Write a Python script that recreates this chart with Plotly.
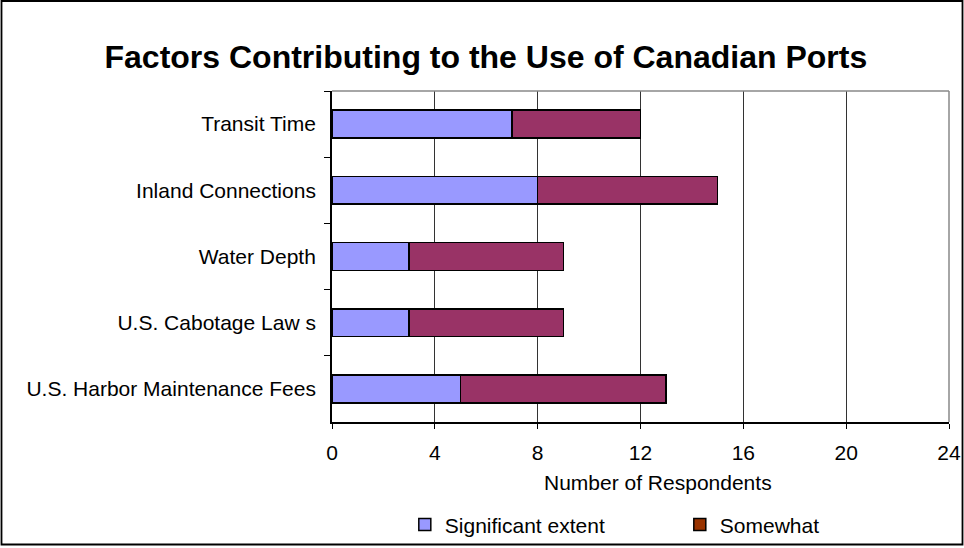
import plotly.graph_objects as go

# Survey responses: factors behind shippers' use of Canadian ports
factors = [
    "Transit Time",
    "Inland Connections",
    "Water Depth",
    "U.S. Cabotage Law s",
    "U.S. Harbor Maintenance Fees",
]
significant_extent = [7, 8, 3, 3, 5]
somewhat = [5, 7, 6, 6, 8]

x_ticks = [0, 4, 8, 12, 16, 20, 24]

BLUE = "#9999FF"
PLUM = "#993366"
LEGEND_RUST = "#993300"
FONT = "Liberation Sans, Arial, sans-serif"

fig = go.Figure()

fig.add_trace(go.Bar(
    y=factors, x=significant_extent, orientation="h",
    name="Significant extent", showlegend=False,
    marker=dict(color=BLUE, line=dict(color="black", width=1.6)),
))
fig.add_trace(go.Bar(
    y=factors, x=somewhat, orientation="h",
    name="Somewhat", showlegend=False,
    marker=dict(color=PLUM, line=dict(color="black", width=1.6)),
))

# Legend keys
fig.add_trace(go.Scatter(
    x=[None], y=[None], mode="markers", name="Significant extent",
    marker=dict(symbol="square", size=12, color=BLUE,
                line=dict(color="black", width=1.5)),
))
fig.add_trace(go.Scatter(
    x=[None], y=[None], mode="markers", name="Somewhat",
    marker=dict(symbol="square", size=12, color=LEGEND_RUST,
                line=dict(color="black", width=1.5)),
))

fig.update_layout(
    width=964, height=548,
    margin=dict(l=332, r=15, t=91, b=126, autoexpand=False),
    barmode="stack",
    bargap=0.58,
    paper_bgcolor="white",
    plot_bgcolor="white",
    font=dict(family=FONT, size=21, color="black"),
    title=dict(
        text="<b>Factors Contributing to the Use of Canadian Ports</b>",
        font=dict(family=FONT, size=32, color="black"),
        x=0.504, xref="container", xanchor="center",
        y=1 - 57 / 548, yanchor="middle",
    ),
    xaxis=dict(
        range=[0, 24], tickvals=x_ticks,
        ticks="outside", ticklen=5, tickcolor="black", tickwidth=1,
        showgrid=True, gridcolor="#333333", gridwidth=1,
        showline=True, linecolor="black", linewidth=1.5,
        zeroline=False,
        ticklabelstandoff=6,
        tickfont=dict(size=21),
        fixedrange=True,
    ),
    yaxis=dict(
        autorange="reversed",
        tickson="boundaries",
        ticks="outside", ticklen=6, tickcolor="black", tickwidth=1,
        showgrid=False,
        showline=True, linecolor="black", linewidth=1.8,
        ticklabelstandoff=10,
        tickfont=dict(size=21),
        fixedrange=True,
    ),
    legend=dict(
        orientation="h",
        traceorder="normal",
        x=0.118, xanchor="left",
        y=-0.311, yanchor="middle",
        entrywidth=230, entrywidthmode="pixels",
        font=dict(size=21),
        bgcolor="rgba(0,0,0,0)",
    ),
    annotations=[dict(
        text="Number of Respondents",
        xref="paper", yref="paper",
        x=0.528, y=-0.184, xanchor="center", yanchor="middle",
        showarrow=False, font=dict(size=21),
    )],
    shapes=[
        # light top and right edges of the plotting area
        dict(type="line", xref="paper", yref="paper", x0=0, x1=1, y0=1, y1=1,
             line=dict(color="#888888", width=1.5), layer="above"),
        dict(type="line", xref="paper", yref="paper", x0=1, x1=1, y0=0, y1=1,
             line=dict(color="#888888", width=1.5), layer="above"),
        # outer chart frame
        dict(type="rect", xref="paper", yref="paper",
             x0=(1.5 - 332) / 617, x1=(962.5 - 332) / 617,
             y0=(422 - 544.5) / 331, y1=(422 - 1) / 331,
             line=dict(color="black", width=1.8), layer="above"),
    ],
)

fig.write_html("out.html")
